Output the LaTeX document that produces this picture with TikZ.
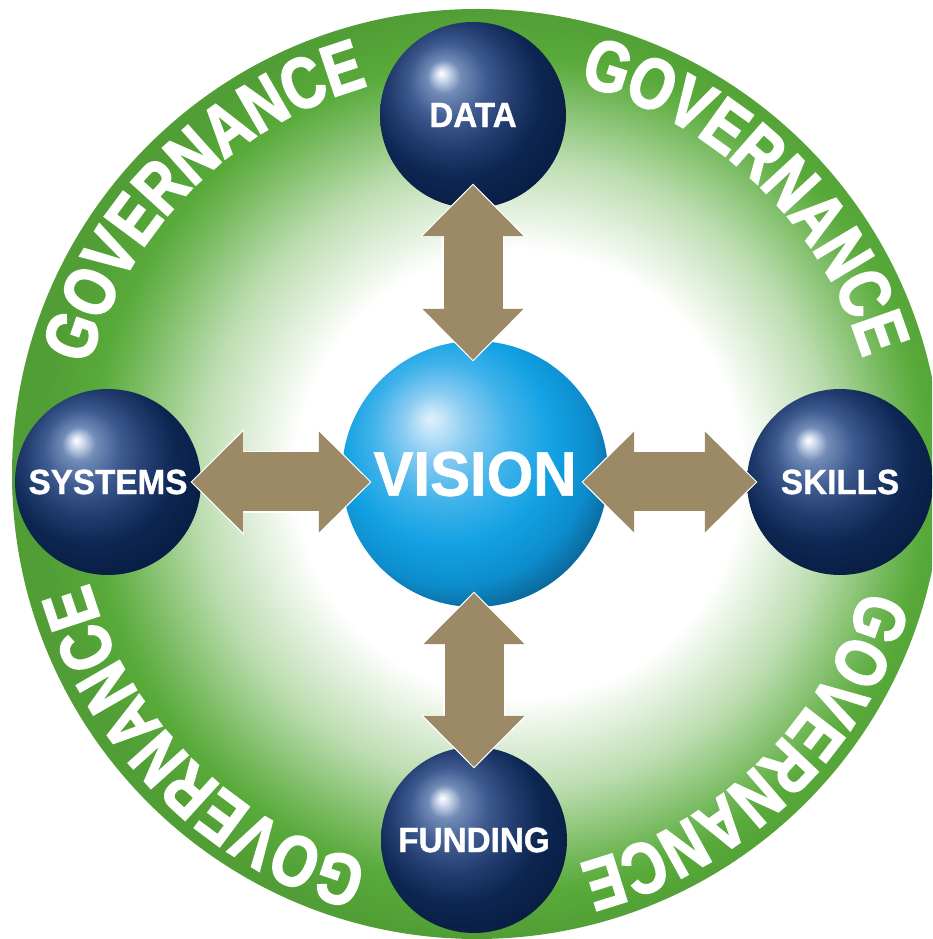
\documentclass[tikz,border=0pt]{standalone}
\usepackage{fontspec}
\newfontfamily\labelfont{Liberation Sans}[FakeStretch=0.95,FakeBold=1]
\newfontfamily\govfamily{Liberation Sans}[FakeStretch=0.8,FakeBold=2.5]
\usetikzlibrary{arrows.meta,calc,decorations.text}

\definecolor{ringgreen}{rgb}{0.345,0.667,0.227}
\definecolor{arrowtan}{rgb}{0.608,0.541,0.396}
\definecolor{navyhi}{rgb}{0.84,0.88,0.94}
\definecolor{navymid}{rgb}{0.45,0.55,0.72}
\definecolor{navylo}{rgb}{0.24,0.35,0.56}
\definecolor{navyblue}{rgb}{0.13,0.23,0.43}
\definecolor{navydark}{rgb}{0.05,0.15,0.32}
\definecolor{navydeep}{rgb}{0.035,0.118,0.27}
\definecolor{skyhi}{rgb}{0.88,0.95,0.99}
\definecolor{skymid}{rgb}{0.55,0.80,0.95}
\definecolor{skylight}{rgb}{0.25,0.70,0.92}
\definecolor{skyblue}{rgb}{0.07,0.63,0.89}
\definecolor{skydark}{rgb}{0.05,0.55,0.80}
\definecolor{skydeep}{rgb}{0.04,0.42,0.62}

\pgfdeclareradialshading{govring}{\pgfpoint{3bp}{0bp}}{color(0bp)=(white); color(12bp)=(white); color(17bp)=(ringgreen!40); color(21bp)=(ringgreen!85); color(22.5bp)=(ringgreen); color(25bp)=(ringgreen!93!black); color(50bp)=(ringgreen!93!black)}
\pgfdeclareradialshading{navyball}{\pgfpoint{-8.6bp}{11.3bp}}{color(0bp)=(white); color(1.4bp)=(navyhi); color(4.5bp)=(navymid); color(10.5bp)=(navylo); color(17bp)=(navyblue); color(23bp)=(navydark); color(30bp)=(navydeep); color(50bp)=(navydeep)}
\pgfdeclareradialshading{skyball}{\pgfpoint{-8.5bp}{10.5bp}}{color(0bp)=(skyhi); color(6bp)=(skymid); color(13bp)=(skylight); color(20bp)=(skyblue); color(26bp)=(skydark); color(30bp)=(skydeep); color(50bp)=(skydeep)}

\newcommand\govfont{\govfamily\bfseries\fontsize{72}{72}\selectfont}

\tikzset{
  sphere/.style={circle, minimum size=186pt, inner sep=0pt, shading=navyball, text=white,
    font=\labelfont\bfseries\fontsize{35}{35}\selectfont},
  hub/.style={circle, minimum size=266pt, inner sep=0pt, shading=skyball, text=white,
    font=\labelfont\bfseries\fontsize{63}{63}\selectfont},
  link/.style={draw=arrowtan, line width=59pt,
    {Triangle[length=51pt,width=101pt,line width=1pt]}-{Triangle[length=51pt,width=101pt,line width=1pt]},
    preaction={draw=white, line width=62pt, shorten <=-1.5pt, shorten >=-1.5pt,
      {Triangle[length=53pt,width=106pt,line width=1pt]}-{Triangle[length=53pt,width=106pt,line width=1pt]}}}
}

\begin{document}
\begin{tikzpicture}[x=1pt,y=1pt]
    \useasboundingbox (0,0) rectangle (932,939);
    \clip (0,0) rectangle (932,939);
    \node[circle, minimum size=930pt, inner sep=0pt, shading=govring] (ring) at (477,465) {};
    \foreach \a in {135,46,-46,-135}
      \path[decorate, decoration={text along path, text align=center,
          text={|\govfont\color{white}|GOVERNANCE}}]
        ([shift={(\a+35:403)}]ring.center) arc[start angle=\a+35, end angle=\a-35, radius=403];
    \node[hub] (vision) at (475,465) {VISION};
    \node[sphere] (data) at (473,824) {DATA};
    \node[sphere] (funding) at (474,99) {FUNDING};
    \node[sphere] (systems) at (108,457) {SYSTEMS};
    \node[sphere] (skills) at (840,457) {SKILLS};
    \draw[link] ($(data.south)+(0,23)$) -- ($(data.south |- vision.north)+(0,-19)$);
    \draw[link] ($(funding.north |- vision.south)+(0,14)$) -- ($(funding.north)+(0,-20)$);
    \draw[link] ($(systems.east)+(-9,0)$) -- ($(systems.east -| vision.west)+(28,0)$);
    \draw[link] ($(skills.west -| vision.east)+(-25,0)$) -- ($(skills.west)+(9,0)$);
\end{tikzpicture}
\end{document}
